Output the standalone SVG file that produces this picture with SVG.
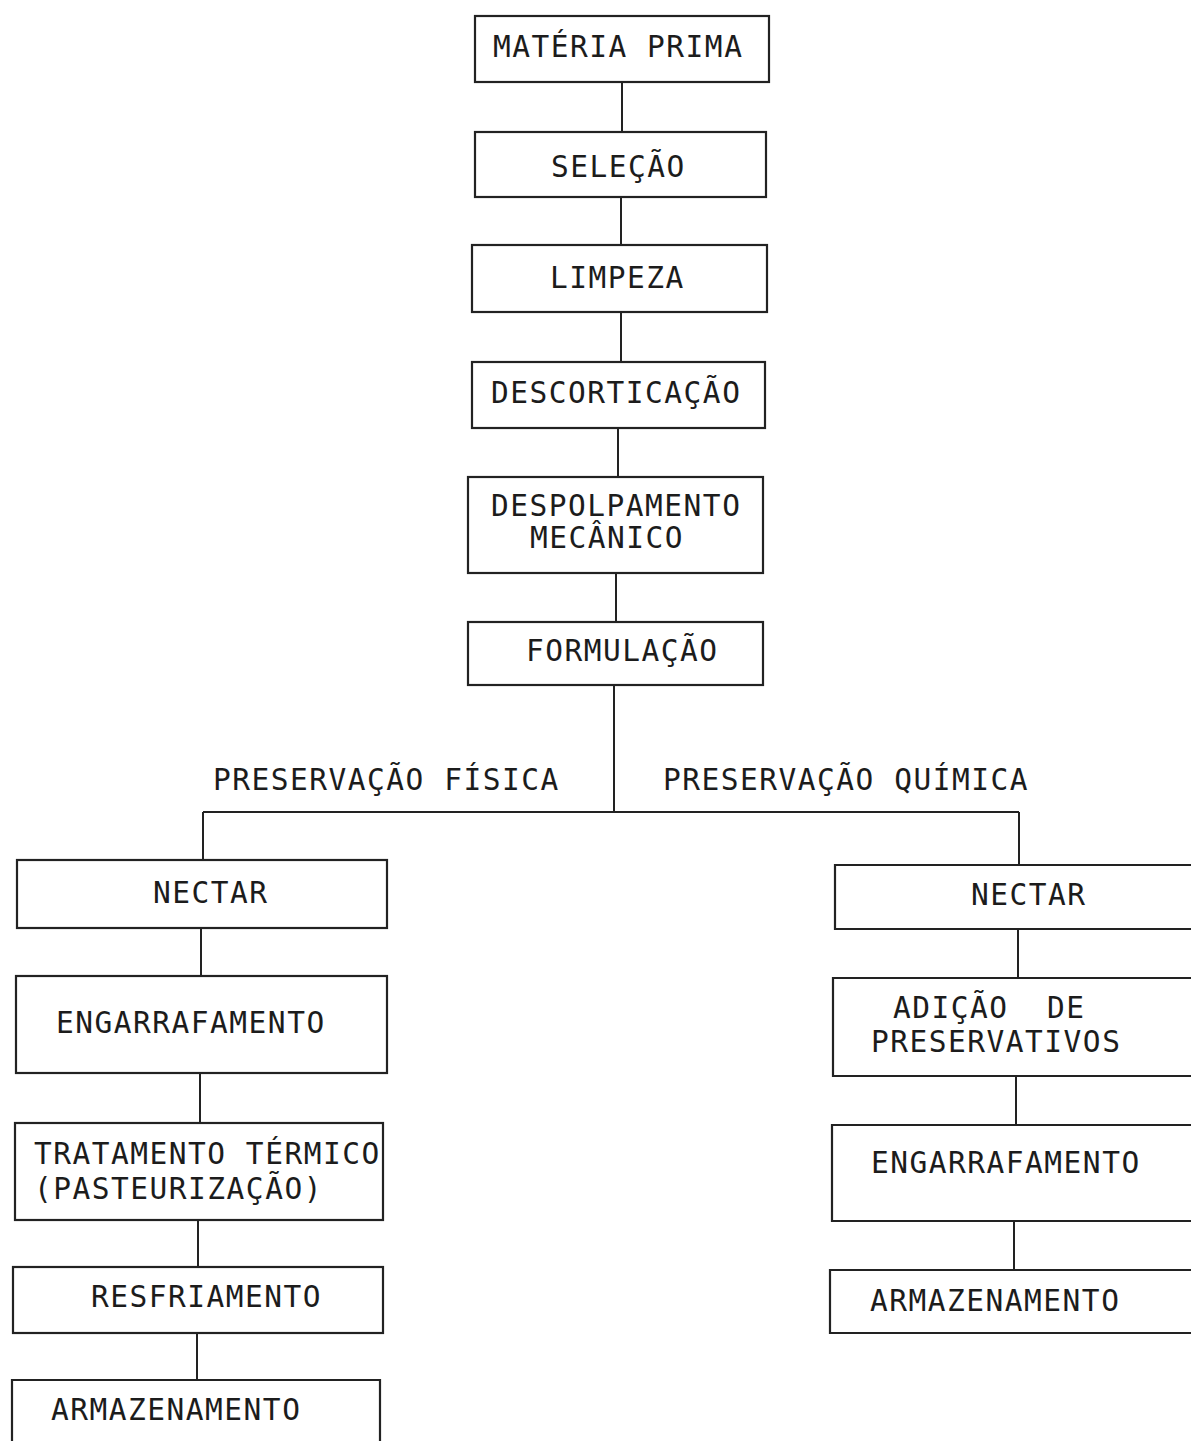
<svg xmlns="http://www.w3.org/2000/svg" width="1191" height="1441" viewBox="0 0 1191 1441">
<style>
.box{fill:none;stroke:#222;stroke-width:2.2}
.ln{fill:none;stroke:#222;stroke-width:2}
text{font-family:"DejaVu Sans Mono","Liberation Mono",monospace;font-size:29.5px;letter-spacing:1.5px;fill:#1c1c1c}
</style>
<rect width="1191" height="1441" fill="#fff"/>
<g id="connectors">
<line class="ln" x1="622" y1="82" x2="622" y2="132"/>
<line class="ln" x1="621" y1="197" x2="621" y2="245"/>
<line class="ln" x1="621" y1="312" x2="621" y2="362"/>
<line class="ln" x1="618" y1="428" x2="618" y2="477"/>
<line class="ln" x1="616" y1="573" x2="616" y2="622"/>
<line class="ln" x1="614" y1="685" x2="614" y2="812"/>
<line class="ln" x1="203" y1="812" x2="1019" y2="812"/>
<line class="ln" x1="203" y1="812" x2="203" y2="860"/>
<line class="ln" x1="1019" y1="812" x2="1019" y2="865"/>
<line class="ln" x1="201" y1="928" x2="201" y2="976"/>
<line class="ln" x1="200" y1="1073" x2="200" y2="1123"/>
<line class="ln" x1="198" y1="1220" x2="198" y2="1267"/>
<line class="ln" x1="197" y1="1333" x2="197" y2="1380"/>
<line class="ln" x1="1018" y1="929" x2="1018" y2="978"/>
<line class="ln" x1="1016" y1="1076" x2="1016" y2="1125"/>
<line class="ln" x1="1014" y1="1221" x2="1014" y2="1270"/>
</g>
<g id="n-materia"><rect class="box" x="475" y="16" width="294" height="66"/><text x="493" y="57">MATÉRIA PRIMA</text></g>
<g id="n-selecao"><rect class="box" x="475" y="132" width="291" height="65"/><text x="551" y="177">SELEÇÃO</text></g>
<g id="n-limpeza"><rect class="box" x="472" y="245" width="295" height="67"/><text x="550" y="288">LIMPEZA</text></g>
<g id="n-descorticacao"><rect class="box" x="472" y="362" width="293" height="66"/><text x="491" y="403">DESCORTICAÇÃO</text></g>
<g id="n-despolpamento"><rect class="box" x="468" y="477" width="295" height="96"/><text x="491" y="516">DESPOLPAMENTO</text><text x="530" y="548">MECÂNICO</text></g>
<g id="n-formulacao"><rect class="box" x="468" y="622" width="295" height="63"/><text x="526" y="661">FORMULAÇÃO</text></g>
<g id="lbl-fisica"><text x="213" y="790">PRESERVAÇÃO FÍSICA</text></g>
<g id="lbl-quimica"><text x="663" y="790">PRESERVAÇÃO QUÍMICA</text></g>
<g id="n-nectar-l"><rect class="box" x="17" y="860" width="370" height="68"/><text x="153" y="903">NECTAR</text></g>
<g id="n-engarrafamento-l"><rect class="box" x="16" y="976" width="371" height="97"/><text x="56" y="1033">ENGARRAFAMENTO</text></g>
<g id="n-tratamento"><rect class="box" x="15" y="1123" width="368" height="97"/><text x="34" y="1164">TRATAMENTO TÉRMICO</text><text x="34" y="1199">(PASTEURIZAÇÃO)</text></g>
<g id="n-resfriamento"><rect class="box" x="13" y="1267" width="370" height="66"/><text x="91" y="1307">RESFRIAMENTO</text></g>
<g id="n-armazenamento-l"><path class="box" d="M12,1450 V1380 H380 V1450"/><text x="51" y="1420">ARMAZENAMENTO</text></g>
<g id="n-nectar-r"><path class="box" d="M1200,865 H835 V929 H1200"/><text x="971" y="905">NECTAR</text></g>
<g id="n-adicao"><path class="box" d="M1200,978 H833 V1076 H1200"/><text x="893" y="1018">ADIÇÃO<tspan x="1047">DE</tspan></text><text x="871" y="1052">PRESERVATIVOS</text></g>
<g id="n-engarrafamento-r"><path class="box" d="M1200,1125 H832 V1221 H1200"/><text x="871" y="1173">ENGARRAFAMENTO</text></g>
<g id="n-armazenamento-r"><path class="box" d="M1200,1270 H830 V1333 H1200"/><text x="870" y="1311">ARMAZENAMENTO</text></g>
</svg>
